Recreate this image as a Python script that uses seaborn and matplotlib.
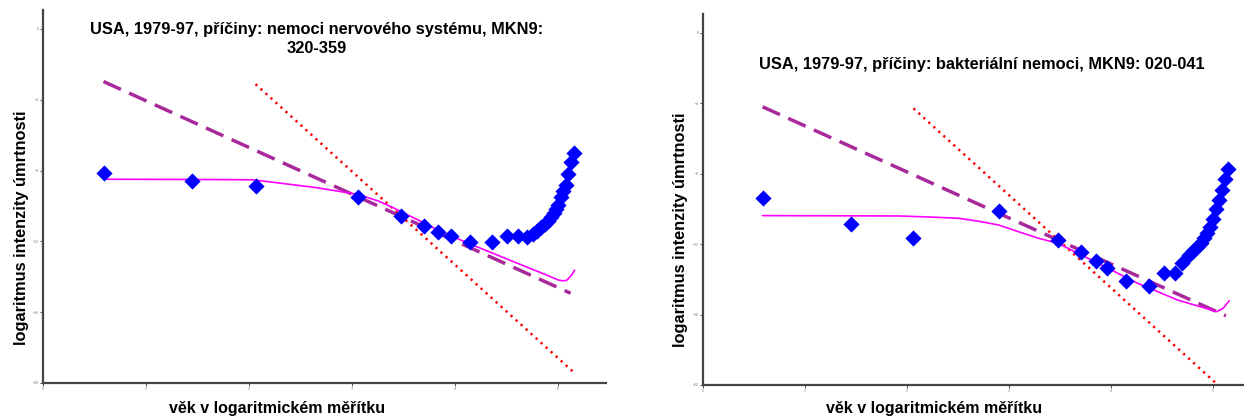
"""Two panels: log mortality vs log age, USA 1979-97."""

import matplotlib

matplotlib.use("Agg")
import matplotlib.pyplot as plt
import pandas as pd
import seaborn as sns

# --- left panel: nervous system diseases ---
nerv_x = [0.588, 1.451, 2.065, 3.063, 3.478, 3.704, 3.842, 3.961, 4.150, 4.367,
          4.511, 4.615, 4.704, 4.760, 4.799, 4.841, 4.876, 4.908, 4.935, 4.964,
          4.983, 5.004, 5.029, 5.053, 5.080, 5.102, 5.131, 5.160]
nerv_y = [-8.11, -8.60, -8.85, -9.48, -10.59, -11.14, -11.48, -11.71, -12.04, -12.04,
          -11.72, -11.72, -11.75, -11.58, -11.41, -11.21, -11.04, -10.85, -10.62, -10.39,
          -10.17, -9.92, -9.52, -9.13, -8.79, -8.20, -7.52, -6.99]
nerv_fit_x = [0.592, 1.330, 2.039, 2.650, 3.063, 3.262, 3.417, 3.612, 3.806, 3.951,
              4.184, 4.573, 4.922, 5.000, 5.049, 5.087, 5.117, 5.141, 5.165]
nerv_fit_y = [-8.49, -8.50, -8.52, -8.96, -9.35, -9.73, -10.14, -10.70, -11.27, -11.66,
              -12.23, -13.15, -13.97, -14.17, -14.23, -14.20, -14.03, -13.86, -13.63]
nerv_dash_x = [0.588, 5.126]
nerv_dash_y = [-2.97, -14.93]
nerv_dot_x = [2.065, 5.165]
nerv_dot_y = [-3.12, -19.44]

# --- right panel: bacterial diseases ---
bact_x = [0.584, 1.451, 2.063, 2.906, 3.479, 3.706, 3.850, 3.956, 4.151, 4.369,
          4.521, 4.627, 4.700, 4.767, 4.806, 4.845, 4.877, 4.908, 4.943, 4.974,
          5.001, 5.028, 5.060, 5.087, 5.119, 5.150]
bact_y = [-9.38, -10.85, -11.63, -10.10, -11.76, -12.44, -12.95, -13.33, -14.09, -14.35,
          -13.65, -13.62, -13.08, -12.61, -12.37, -12.14, -11.91, -11.66, -11.38, -11.01,
          -10.59, -10.02, -9.49, -8.92, -8.30, -7.75]
bact_fit_x = [0.584, 1.919, 2.223, 2.504, 2.713, 2.895, 3.090, 3.285, 3.479, 3.870,
              4.260, 4.651, 4.924, 5.040, 5.099, 5.158]
bact_fit_y = [-10.38, -10.40, -10.46, -10.53, -10.71, -10.91, -11.29, -11.66, -11.95, -13.08,
              -14.22, -15.17, -15.64, -15.83, -15.64, -15.22]
bact_dash_x = [0.584, 5.126]
bact_dash_y = [-4.20, -16.07]
bact_dot_x = [2.063, 5.048]
bact_dot_y = [-4.29, -20.0]

x_ticks = [0, 1, 2, 3, 4, 5]
y_ticks = [0, -4, -8, -12, -16, -20]

XLABEL = "věk v logaritmickém měřítku"
YLABEL = "logaritmus intenzity úmrtnosti"

sns.set_theme(style="white")
plt.rcParams["font.family"] = ["Liberation Sans", "DejaVu Sans"]

W, H = 1244, 417
fig = plt.figure(figsize=(W / 100, H / 100), dpi=100)


def px_axes(left, top, right, bottom):
    return fig.add_axes([left / W, 1 - bottom / H, (right - left) / W, (bottom - top) / H])


def draw_panel(ax, px, py, fx, fy, dx, dy, tx, ty):
    sns.lineplot(x=tx, y=ty, ax=ax, color="#ff0000", linewidth=1.8,
                 linestyle=(0, (0.9, 1.8)), sort=False)
    sns.lineplot(x=dx, y=dy, ax=ax, color="#a8299b", linewidth=2.5,
                 linestyle=(0, (5.5, 2.6)), sort=False)
    sns.lineplot(x=fx, y=fy, ax=ax, color="#ff00ff", linewidth=1.2, sort=False)
    pts = pd.DataFrame({"x": px, "y": py})
    sns.scatterplot(data=pts, x="x", y="y", ax=ax, marker="D", s=68,
                    color="#0000ff", linewidth=0, zorder=3)
    ax.set_xlim(0, 5.47)
    ax.set_ylim(-20, 1.07)
    ax.set_xticks(x_ticks)
    ax.set_yticks(y_ticks)
    ax.tick_params(labelsize=2.5, labelcolor="#777777", length=2, width=0.6,
                   color="#333333", pad=1, bottom=True, left=True)
    for side in ("top", "right"):
        ax.spines[side].set_visible(False)
    for side in ("left", "bottom"):
        ax.spines[side].set_color("#444444")
        ax.spines[side].set_linewidth(1.6)
    ax.set_xlabel("")
    ax.set_ylabel("")


ax1 = px_axes(43, 10, 606, 383)
draw_panel(ax1, nerv_x, nerv_y, nerv_fit_x, nerv_fit_y,
           nerv_dash_x, nerv_dash_y, nerv_dot_x, nerv_dot_y)

ax2 = px_axes(703, 14, 1261, 385)
draw_panel(ax2, bact_x, bact_y, bact_fit_x, bact_fit_y,
           bact_dash_x, bact_dash_y, bact_dot_x, bact_dot_y)

bold = dict(fontweight="bold", color="#000000")
fig.text(317 / W, 1 - 39 / H, "USA, 1979-97, příčiny: nemoci nervového systému, MKN9:\n320-359",
         ha="center", va="center", fontsize=11.8, linespacing=1.3, **bold)
fig.text(982 / W, 1 - 65 / H, "USA, 1979-97, příčiny: bakteriální nemoci, MKN9: 020-041",
         ha="center", va="center", fontsize=11.8, **bold)

fig.text(277 / W, 1 - 408 / H, XLABEL, ha="center", va="center", fontsize=11.5, **bold)
fig.text(934 / W, 1 - 409 / H, XLABEL, ha="center", va="center", fontsize=11.5, **bold)
fig.text(22 / W, 1 - 228 / H, YLABEL, ha="center", va="center", rotation=90, fontsize=11.8, **bold)
fig.text(680 / W, 1 - 230 / H, YLABEL, ha="center", va="center", rotation=90, fontsize=11.8, **bold)

fig.savefig("out.png", dpi=100)
